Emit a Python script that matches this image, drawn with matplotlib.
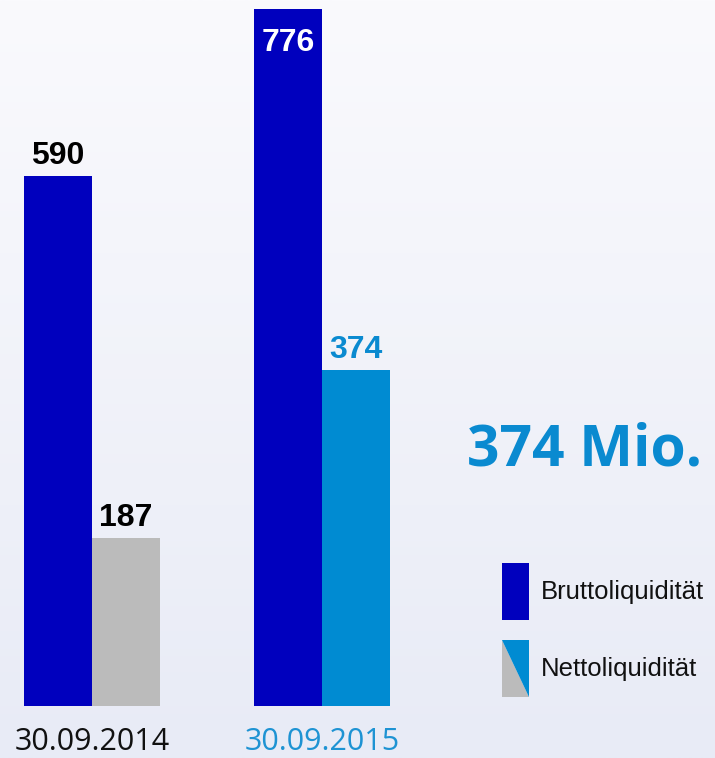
import matplotlib
matplotlib.use("Agg")
import matplotlib.pyplot as plt
import numpy as np
from matplotlib.patches import Polygon, Rectangle

# ---- data ----
dates = ["30.09.2014", "30.09.2015"]
brutto = [590, 776]
netto = [187, 374]
series_names = ["Bruttoliquidität", "Nettoliquidität"]
headline = "374 Mio."

# ---- styles ----
c_brutto = "#0000BE"
c_netto = ["#BBBBBB", "#008BD2"]
c_netto_label = ["#000000", "#0A8AD0"]
c_date = ["#111111", "#1E93D3"]

W, H = 715, 758
fig = plt.figure(figsize=(W / 100, H / 100), dpi=100)

# background gradient
bg = fig.add_axes([0, 0, 1, 1], zorder=0)
top = np.array([250, 250, 253]) / 255
bot = np.array([232, 235, 246]) / 255
t = np.linspace(0, 1, 256)[:, None]
grad = top[None, :] * (1 - t) + bot[None, :] * t
bg.imshow(grad[:, None, :], aspect="auto", extent=[0, 1, 0, 1])
bg.axis("off")

# main axes: bottom at pixel 706 from top
base_px = 706
ax = fig.add_axes([0, (H - base_px) / H, 1, base_px / H], zorder=1)
ax.patch.set_alpha(0)
spacing_px = 230
x = np.arange(len(dates))
bw = 68 / spacing_px
ax.set_xlim(-92 / spacing_px, (W - 92) / spacing_px)
ax.set_ylim(0, base_px / 0.8982)

b1 = ax.bar(x - bw / 2, brutto, bw, color=c_brutto, linewidth=0)
b2 = ax.bar(x + bw / 2, netto, bw, color=c_netto, linewidth=0)

lab_font = dict(family=["Liberation Sans", "DejaVu Sans"], fontweight="bold", fontsize=23)
for i, r in enumerate(b1):
    if i == 0:
        ax.annotate(str(brutto[i]), (r.get_x() + r.get_width() / 2, r.get_height()),
                    xytext=(0, 3.5), textcoords="offset points", ha="center", va="bottom",
                    color="black", **lab_font)
    else:
        ax.annotate(str(brutto[i]), (r.get_x() + r.get_width() / 2, r.get_height()),
                    xytext=(0, -13.5), textcoords="offset points", ha="center", va="top",
                    color="white", **lab_font)
for i, r in enumerate(b2):
    ax.annotate(str(netto[i]), (r.get_x() + r.get_width() / 2, r.get_height()),
                xytext=(0, 3.5), textcoords="offset points", ha="center", va="bottom",
                color=c_netto_label[i], **lab_font)

ax.set_xticks(x)
ax.set_xticklabels(dates, fontsize=22, family=["Open Sans", "DejaVu Sans"])
for tl, c in zip(ax.get_xticklabels(), c_date):
    tl.set_color(c)
ax.tick_params(axis="x", length=0, pad=15)
ax.set_yticks([])
for s in ax.spines.values():
    s.set_visible(False)

# headline
fig.text(467 / W, 1 - 450 / H, headline, fontsize=41, fontweight="bold",
         family=["Open Sans", "DejaVu Sans"], color="#0A8AD0", ha="left", va="center")

# legend (figure pixel coords)
lg = fig.add_axes([0, 0, 1, 1], zorder=2)
lg.set_xlim(0, W)
lg.set_ylim(H, 0)
lg.axis("off")
lx0, lx1 = 502, 529
lg.add_patch(Rectangle((lx0, 563), lx1 - lx0, 57, color=c_brutto, lw=0))
y0, y1 = 640, 697
lg.add_patch(Polygon([(lx0, y0), (lx0, y1), (lx1, y1)], closed=True, color=c_netto[0], lw=0))
lg.add_patch(Polygon([(lx0, y0), (lx1, y0), (lx1, y1)], closed=True, color=c_netto[1], lw=0))
leg_font = dict(family=["Liberation Sans", "DejaVu Sans"], fontsize=18.5, color="#111111")
lg.text(541, 592, series_names[0], ha="left", va="center", **leg_font)
lg.text(541, 669, series_names[1], ha="left", va="center", **leg_font)

fig.savefig("out.png", dpi=100)
